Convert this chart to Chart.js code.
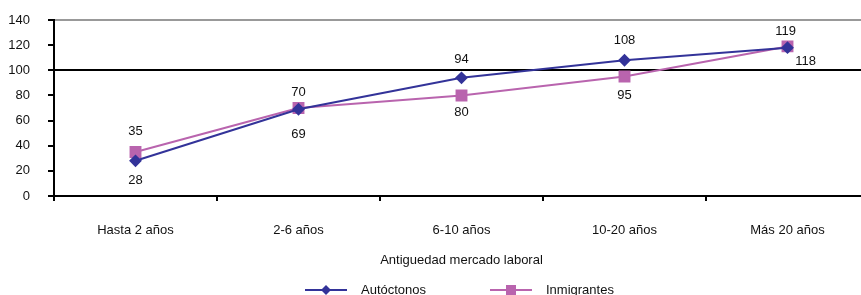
<!DOCTYPE html>
<html>
<head>
<meta charset="utf-8">
<script src="https://cdn.jsdelivr.net/npm/chart.js@4/dist/chart.umd.min.js"></script>
<style>
html,body{margin:0;padding:0;background:#fff;overflow:hidden;width:861px;height:295px;}
#outer{width:861px;height:295px;overflow:hidden;position:relative;}
#inner{width:878px;height:295px;position:relative;}
</style>
</head>
<body>
<div id="outer"><div id="inner"><canvas id="c"></canvas></div></div>
<script>
// ---- data ----
const categories = ['Hasta 2 años', '2-6 años', '6-10 años', '10-20 años', 'Más 20 años'];
const autoctonos = [28, 69, 94, 108, 118];
const inmigrantes = [35, 70, 80, 95, 119];
const yTicks = [0, 20, 40, 60, 80, 100, 120, 140];
const axisTitle = 'Antiguedad mercado laboral';
const seriesNames = ['Autóctonos', 'Inmigrantes'];

// ---- styling ----
const FONT = '"Liberation Sans", Arial, Helvetica, sans-serif';
const BLUE = '#333399';
const PINK = '#b964ae';
// value label placement (style): [dx, dy] offsets from the point
const labelOffsets = [
  [[0, 20], [0, 25], [0, -18], [0, -20], [18, 14]],
  [[0, -21], [0, -16], [0, 17], [0, 19], [-2, -15]]
];

const valueLabels = {
  id: 'valueLabels',
  afterDatasetsDraw(chart) {
    const ctx = chart.ctx;
    ctx.save();
    ctx.font = '13px ' + FONT;
    ctx.fillStyle = '#111';
    ctx.textAlign = 'center';
    ctx.textBaseline = 'middle';
    chart.data.datasets.forEach((ds, di) => {
      const meta = chart.getDatasetMeta(di);
      meta.data.forEach((pt, i) => {
        const off = labelOffsets[di][i];
        ctx.fillText(String(ds.data[i]), pt.x + off[0], pt.y + off[1]);
      });
    });
    ctx.restore();
  }
};

const customLegend = {
  id: 'customLegend',
  afterDraw(chart) {
    const ctx = chart.ctx;
    const y = 290;
    const items = [
      {x: 305, color: BLUE, shape: 'diamond', text: seriesNames[0]},
      {x: 490, color: PINK, shape: 'square', text: seriesNames[1]}
    ];
    ctx.save();
    items.forEach(it => {
      ctx.strokeStyle = it.color;
      ctx.lineWidth = 2;
      ctx.beginPath();
      ctx.moveTo(it.x, y);
      ctx.lineTo(it.x + 42, y);
      ctx.stroke();
      ctx.fillStyle = it.color;
      const cx = it.x + 21;
      if (it.shape === 'diamond') {
        ctx.beginPath();
        ctx.moveTo(cx, y - 5);
        ctx.lineTo(cx + 5, y);
        ctx.lineTo(cx, y + 5);
        ctx.lineTo(cx - 5, y);
        ctx.closePath();
        ctx.fill();
      } else {
        ctx.fillRect(cx - 5, y - 5, 10, 10);
      }
      ctx.fillStyle = '#111';
      ctx.font = '13px ' + FONT;
      ctx.textAlign = 'left';
      ctx.textBaseline = 'middle';
      ctx.fillText(it.text, it.x + 56, y);
    });
    ctx.restore();
  }
};

new Chart(document.getElementById('c'), {
  type: 'line',
  data: {
    labels: categories,
    datasets: [
      {
        label: seriesNames[0],
        data: autoctonos,
        borderColor: BLUE,
        backgroundColor: BLUE,
        borderWidth: 2,
        pointStyle: 'rectRot',
        pointRadius: 5,
        pointHoverRadius: 5,
        tension: 0
      },
      {
        label: seriesNames[1],
        data: inmigrantes,
        borderColor: PINK,
        backgroundColor: PINK,
        borderWidth: 2,
        pointStyle: 'rect',
        pointRadius: 7,
        pointHoverRadius: 7,
        tension: 0
      }
    ]
  },
  options: {
    responsive: true,
    maintainAspectRatio: false,
    animation: false,
    devicePixelRatio: 1,
    layout: {padding: {left: 0, right: 0, top: 20, bottom: 22}},
    plugins: {legend: {display: false}, tooltip: {enabled: false}},
    scales: {
      x: {
        offset: true,
        afterFit: s => { s.height = 77; s.paddingRight = 0; s.paddingLeft = 0; },
        grid: {offset: true, drawOnChartArea: false, tickLength: 5, color: '#000', tickColor: '#000', lineWidth: 2},
        border: {color: '#000', width: 2},
        ticks: {color: '#111', font: {family: FONT, size: 13}, padding: 22, maxRotation: 0},
        title: {display: true, text: axisTitle, color: '#111', font: {family: FONT, size: 13}, padding: {top: 0, bottom: 5}}
      },
      y: {
        min: 0,
        max: 140,
        afterFit: s => { s.width = 54; s.paddingTop = 0; s.paddingBottom = 0; },
        afterBuildTicks: s => { s.ticks = yTicks.map(v => ({value: v})); },
        grid: {
          tickLength: 6,
          tickColor: '#000',
          lineWidth: 2,
          color: c => c.tick && c.tick.value === 100 ? '#000' : (c.tick && c.tick.value === 140 ? '#999' : 'rgba(0,0,0,0)')
        },
        border: {color: '#000', width: 2},
        ticks: {color: '#111', font: {family: FONT, size: 13}, padding: 18, labelOffset: 0}
      }
    }
  },
  plugins: [valueLabels, customLegend]
});
</script>
</body>
</html>
